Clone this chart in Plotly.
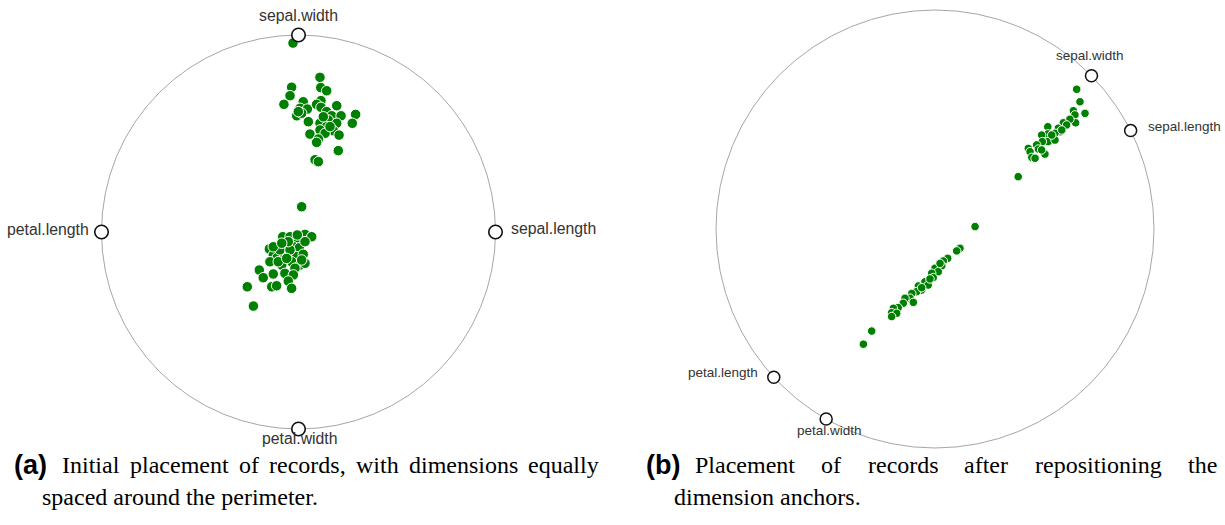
import math
import plotly.graph_objects as go

W, H = 1225, 525

# ---------------- data (unit-circle RadViz coordinates) ----------------
dims = ["sepal.length", "sepal.width", "petal.length", "petal.width"]
anchor_angle_a = [0, 90, 180, 270]          # degrees, panel (a)
anchor_angle_b = [26.7, 44.4, 222.6, 240.2]  # degrees, panel (b)

a_x = [0.109, -0.035, 0.113, 0.143, -0.043, -0.074, 0.024, 0.114, 0.008, 0.045,
       0.092, 0.114, -0.009, 0.016, 0.194, 0.143, 0.169, 0.216, 0.290, 0.273,
       0.050, 0.109, 0.151, 0.194, 0.143, 0.177, 0.206, 0.109, 0.058, 0.135,
       0.101, 0.092, 0.202, 0.084, 0.101, 0.160, 0.126, -0.001, -0.028,
       0.016, 0.033, 0.067, -0.080, -0.043, -0.001, -0.148, -0.077, -0.026, 0.004,
       0.033, -0.128, -0.108, -0.069, -0.009, 0.024, -0.145, -0.035, -0.085, 0.008,
       0.033, -0.199, -0.128, -0.069, -0.018, -0.179, -0.026, -0.052, -0.136, -0.111,
       -0.035, -0.260, -0.229, -0.094, -0.043, -0.103, 0.016, -0.060, -0.006, -0.052,
       -0.128, -0.085]
a_y = [0.785, 0.735, 0.733, 0.717, 0.692, 0.648, 0.661, 0.667, 0.628, 0.624,
       0.648, 0.633, 0.590, 0.603, 0.641, 0.611, 0.590, 0.590, 0.597, 0.552,
       0.560, 0.552, 0.569, 0.552, 0.535, 0.514, 0.492, 0.518, 0.497, 0.501,
       0.472, 0.455, 0.413, 0.367, 0.357, 0.535, 0.585, 0.611, 0.959,
       0.128, -0.012, -0.024, -0.024, -0.024, -0.041, -0.086, -0.066, -0.075, -0.080,
       -0.049, -0.117, -0.130, -0.117, -0.125, -0.113, -0.151, -0.151, -0.168, -0.168,
       -0.159, -0.193, -0.213, -0.210, -0.184, -0.232, -0.218, -0.249, -0.278, -0.273,
       -0.286, -0.278, -0.376, -0.091, -0.091, -0.151, -0.142, -0.134, -0.015, -0.049,
       -0.075, -0.057]

b_x = [0.647, 0.662, 0.685, 0.632, 0.639, 0.642, 0.616, 0.586, 0.601, 0.563,
       0.571, 0.548, 0.515, 0.515, 0.487, 0.517, 0.548, 0.490, 0.464, 0.472,
       0.426, 0.434, 0.502, 0.442, 0.457, 0.380, 0.487, 0.579, 0.533,
       0.183, 0.114, 0.099, 0.058, 0.038, 0.031, 0.000, 0.015, -0.015, -0.008,
       -0.046, -0.031, -0.076, -0.061, -0.084, -0.106, -0.114, -0.099, -0.137, -0.145,
       -0.168, -0.190, -0.198, -0.175, -0.198, -0.289, -0.327, -0.023, -0.061, 0.023]
b_y = [0.638, 0.581, 0.528, 0.540, 0.521, 0.485, 0.501, 0.485, 0.475, 0.460,
       0.444, 0.437, 0.467, 0.434, 0.429, 0.399, 0.406, 0.399, 0.384, 0.365,
       0.368, 0.353, 0.342, 0.327, 0.323, 0.239, 0.361, 0.452, 0.429,
       0.011, -0.088, -0.100, -0.134, -0.146, -0.168, -0.179, -0.195, -0.202, -0.222,
       -0.241, -0.256, -0.260, -0.279, -0.286, -0.294, -0.316, -0.335, -0.316, -0.339,
       -0.359, -0.362, -0.382, -0.385, -0.400, -0.466, -0.526, -0.228, -0.268, -0.157]

# ---------------- layout helpers ----------------
GREEN = "#008000"
LABEL_FONT_A = dict(family="Liberation Sans, Arial, sans-serif", size=15.8, color="#333333")
LABEL_FONT_B = dict(family="Liberation Sans, Arial, sans-serif", size=13.5, color="#333333")


def axis_ranges(cx, cy, r, x0px, x1px):
    xr = [(x0px - cx) / r, (x1px - cx) / r]
    yr = [-(H - cy) / r, cy / r]
    return xr, yr


xr_a, yr_a = axis_ranges(298.5, 232, 197, 0, W / 2)
xr_b, yr_b = axis_ranges(935, 229, 219, W / 2, W)

fig = go.Figure()

# records
fig.add_trace(go.Scatter(x=a_x, y=a_y, xaxis="x", yaxis="y", mode="markers",
                         marker=dict(size=10.5, color=GREEN, line=dict(color="white", width=1)),
                         hoverinfo="skip", showlegend=False))
fig.add_trace(go.Scatter(x=b_x, y=b_y, xaxis="x2", yaxis="y2", mode="markers",
                         marker=dict(size=8.5, color=GREEN, line=dict(color="white", width=1)),
                         hoverinfo="skip", showlegend=False))

# anchors
ax_a = [math.cos(math.radians(t)) for t in anchor_angle_a]
ay_a = [math.sin(math.radians(t)) for t in anchor_angle_a]
ax_b = [math.cos(math.radians(t)) for t in anchor_angle_b]
ay_b = [math.sin(math.radians(t)) for t in anchor_angle_b]

fig.add_trace(go.Scatter(x=ax_a, y=ay_a, xaxis="x", yaxis="y", mode="markers",
                         marker=dict(size=13.5, color="white", line=dict(color="#111111", width=1.6)),
                         hoverinfo="skip", showlegend=False))
fig.add_trace(go.Scatter(x=ax_b, y=ay_b, xaxis="x2", yaxis="y2", mode="markers",
                         marker=dict(size=12, color="white", line=dict(color="#111111", width=1.5)),
                         hoverinfo="skip", showlegend=False))

shapes = [
    dict(type="circle", xref="x", yref="y", x0=-1, x1=1, y0=-1, y1=1,
         line=dict(color="#a6a6a6", width=1), layer="below"),
    dict(type="circle", xref="x2", yref="y2", x0=-1, x1=1, y0=-1, y1=1,
         line=dict(color="#a6a6a6", width=1), layer="below"),
]

# label placement styles (per dimension, per panel)
style_a = {
    "sepal.length": dict(xanchor="left", xshift=13, yshift=4),
    "sepal.width": dict(xanchor="center", xshift=0, yshift=20),
    "petal.length": dict(xanchor="right", xshift=-11, yshift=3),
    "petal.width": dict(xanchor="center", xshift=1, yshift=-9),
}
style_b = {
    "sepal.length": dict(xanchor="left", xshift=15, yshift=4),
    "sepal.width": dict(xanchor="center", xshift=-1, yshift=20),
    "petal.length": dict(xanchor="right", xshift=-14, yshift=5),
    "petal.width": dict(xanchor="center", xshift=3, yshift=-11),
}

annotations = []
for d, x, y in zip(dims, ax_a, ay_a):
    annotations.append(dict(text=d, x=x, y=y, xref="x", yref="y", showarrow=False,
                            yanchor="middle", font=LABEL_FONT_A, **style_a[d]))
for d, x, y in zip(dims, ax_b, ay_b):
    annotations.append(dict(text=d, x=x, y=y, xref="x2", yref="y2", showarrow=False,
                            yanchor="middle", font=LABEL_FONT_B, **style_b[d]))

# captions
SERIF = dict(family="Liberation Serif, Times New Roman, serif", size=24, color="black")
SANSB = dict(family="Liberation Sans, Arial, sans-serif", size=27, color="black")


def cap(text, xpx, ypx, font, xanchor="left"):
    annotations.append(dict(text=text, x=xpx / W, y=1 - ypx / H, xref="paper", yref="paper",
                            showarrow=False, xanchor=xanchor, yanchor="middle", font=font))


cap("<b>(a)</b>", 12, 465, SANSB)
line_a = [("Initial", 60), ("placement", 128), ("of", 237), ("records,", 267),
          ("with", 354), ("dimensions", 407), ("equally", 526)]
for w, xp in line_a:
    cap(w, xp, 465, SERIF)
cap("spaced around the perimeter.", 40, 497, SERIF)

cap("<b>(b)</b>", 644, 465, SANSB)
line_b = [("Placement", 693), ("of", 819), ("records", 866), ("after", 962),
          ("repositioning", 1033), ("the", 1186)]
for w, xp in line_b:
    cap(w, xp, 465, SERIF)
cap("dimension anchors.", 672, 497, SERIF)

noax = dict(visible=False, showgrid=False, zeroline=False, fixedrange=True)
fig.update_layout(
    width=W, height=H,
    margin=dict(l=0, r=0, t=0, b=0),
    paper_bgcolor="white", plot_bgcolor="white",
    xaxis=dict(domain=[0, 0.5], range=xr_a, **noax),
    yaxis=dict(domain=[0, 1], range=yr_a, anchor="x", **noax),
    xaxis2=dict(domain=[0.5, 1], range=xr_b, anchor="y2", **noax),
    yaxis2=dict(domain=[0, 1], range=yr_b, anchor="x2", **noax),
    shapes=shapes,
    annotations=annotations,
    showlegend=False,
)

fig.write_html("out.html")
